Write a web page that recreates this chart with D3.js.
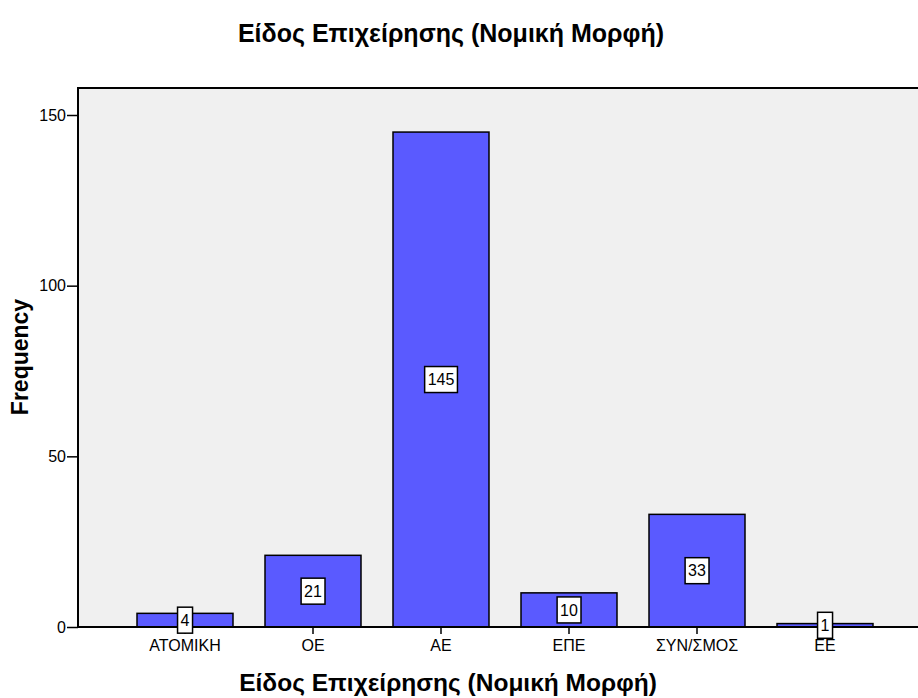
<!DOCTYPE html>
<html>
<head>
<meta charset="utf-8">
<script src="https://cdn.jsdelivr.net/npm/d3@7"></script>
<style>
  body { margin: 0; background: #fff; }
  svg { display: block; font-family: Arial, "Liberation Sans", sans-serif; }
</style>
</head>
<body>
<div id="chart"></div>
<script>
var categories = ["ΑΤΟΜΙΚΗ", "ΟΕ", "ΑΕ", "ΕΠΕ", "ΣΥΝ/ΣΜΟΣ", "ΕΕ"];
var frequencies = [4, 21, 145, 10, 33, 1];
var yTicks = [0, 50, 100, 150];
var chartTitle = "Είδος Επιχείρησης (Νομική Μορφή)";
var xTitle = "Είδος Επιχείρησης (Νομική Μορφή)";
var yTitle = "Frequency";

var width = 918;
var height = 698;

var plot = {
  left: 78,
  top: 88,
  right: 932,
  bottom: 627
};

var svg = d3.select("#chart")
  .append("svg")
  .attr("width", width)
  .attr("height", height);

var yScale = d3.scaleLinear().domain([0, 150]).range([plot.bottom, 115]);
var xScale = d3.scaleBand().domain(categories).range([121, 889])
  .paddingInner(0.25).paddingOuter(0.125);

//Plot background
svg.append("rect")
  .attr("x", plot.left)
  .attr("y", plot.top)
  .attr("width", plot.right - plot.left)
  .attr("height", plot.bottom - plot.top)
  .style("fill", "#f0f0f0");

//Bars
svg.selectAll(".bar").data(frequencies).enter().append("rect")
  .attr("class", "bar")
  .attr("x", function(value, index) {
    return xScale(categories[index]);
  })
  .attr("y", function(value) {
    return yScale(value);
  })
  .attr("width", xScale.bandwidth())
  .attr("height", function(value) {
    return plot.bottom - yScale(value);
  })
  .style("fill", "#5a5aff")
  .style("stroke", "#000")
  .style("stroke-width", 1.5);

//Frame: top and left borders
svg.append("line")
  .attr("x1", plot.left).attr("x2", width)
  .attr("y1", plot.top).attr("y2", plot.top)
  .style("stroke", "#000").style("stroke-width", 2);

//Y axis
var yAxis = svg.append("g")
  .attr("transform", "translate(" + plot.left + ",0)")
  .call(d3.axisLeft(yScale).tickValues(yTicks).tickSize(11).tickPadding(1));
yAxis.select(".domain").remove();
yAxis.selectAll("line").style("stroke", "#000").style("stroke-width", 1.5);
yAxis.selectAll("text").style("font-size", "16px").style("fill", "#000")
  .style("font-family", "Arial, 'Liberation Sans', sans-serif");

svg.append("line")
  .attr("x1", plot.left).attr("x2", plot.left)
  .attr("y1", plot.top - 1).attr("y2", plot.bottom)
  .style("stroke", "#000").style("stroke-width", 2);

//X axis
var xAxis = svg.append("g")
  .attr("transform", "translate(0," + plot.bottom + ")")
  .call(d3.axisBottom(xScale).tickSize(7).tickPadding(6));
xAxis.select(".domain").remove();
xAxis.selectAll("line").style("stroke", "#000").style("stroke-width", 1.5);
xAxis.selectAll("text").style("font-size", "16px").style("fill", "#000")
  .style("font-family", "Arial, 'Liberation Sans', sans-serif");

svg.append("line")
  .attr("x1", plot.left).attr("x2", width)
  .attr("y1", plot.bottom).attr("y2", plot.bottom)
  .style("stroke", "#000").style("stroke-width", 2);

//Value labels in boxes
var labels = svg.selectAll(".label").data(frequencies).enter().append("g")
  .attr("class", "label")
  .attr("transform", function(value, index) {
    var cx = xScale(categories[index]) + xScale.bandwidth() / 2;
    var cy = (yScale(value) + plot.bottom) / 2;
    return "translate(" + cx + "," + cy + ")";
  });

labels.append("text")
  .attr("text-anchor", "middle")
  .attr("dy", "0.36em")
  .style("font-size", "16px")
  .text(function(value) { return value; });

labels.each(function() {
  var g = d3.select(this);
  var box = g.select("text").node().getBBox();
  g.insert("rect", "text")
    .attr("x", box.x - 3)
    .attr("y", -13)
    .attr("width", box.width + 6)
    .attr("height", 26)
    .style("fill", "#fff")
    .style("stroke", "#000")
    .style("stroke-width", 1.5);
});

//Titles
svg.append("text")
  .attr("x", 451).attr("y", 42)
  .attr("text-anchor", "middle")
  .style("font-size", "25px").style("font-weight", "bold")
  .text(chartTitle);

svg.append("text")
  .attr("x", 448).attr("y", 691)
  .attr("text-anchor", "middle")
  .style("font-size", "24.5px").style("font-weight", "bold")
  .text(xTitle);

svg.append("text")
  .attr("transform", "translate(28,357) rotate(-90)")
  .attr("text-anchor", "middle")
  .style("font-size", "23px").style("font-weight", "bold")
  .text(yTitle);
</script>
</body>
</html>
